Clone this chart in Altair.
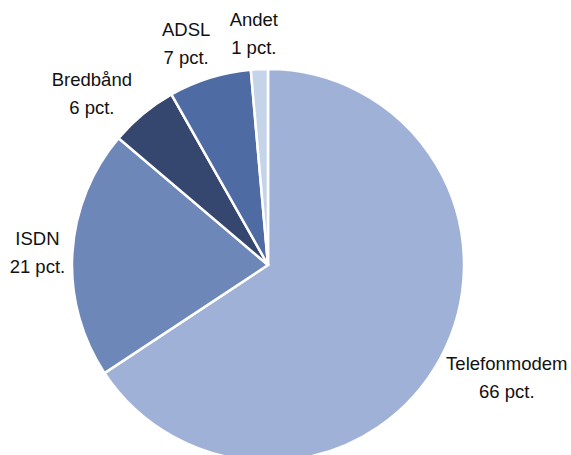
import altair as alt
import pandas as pd

categories = ["Telefonmodem", "ISDN", "Bredbånd", "ADSL", "Andet"]
shares = [65.7, 20.5, 5.6, 6.8, 1.4]
label_pct = [66, 21, 6, 7, 1]
colors = ["#9FB1D6", "#6D87B8", "#35476E", "#4F6BA3", "#C6D4EA"]

# label placement style (radius from centre, pixel nudges)
label_radius = [262, 231, 245, 232, 232]
label_dx = [8, 0, -20, -13, -4]
label_dy = [-25, -12, 4, -13, -13]

df = pd.DataFrame({
    "cat": categories,
    "share": shares,
    "order": list(range(len(categories))),
    "label": [f"{c}\n{p} pct." for c, p in zip(categories, label_pct)],
})

base = alt.Chart(df).encode(
    theta=alt.Theta("share:Q", stack=True),
    order=alt.Order("order:Q"),
)

pie = base.mark_arc(outerRadius=196, stroke="white", strokeWidth=2.5).encode(
    color=alt.Color("cat:N", scale=alt.Scale(domain=categories, range=colors), legend=None)
)

layers = [pie]
for c, r, dx, dy in zip(categories, label_radius, label_dx, label_dy):
    layers.append(
        base.mark_text(
            radius=r, dx=dx, dy=dy, lineBreak="\n", lineHeight=28,
            font="Liberation Sans", fontSize=18.5, color="#111111",
            align="center", baseline="middle",
        ).encode(
            text=alt.condition(alt.datum.cat == c, "label:N", alt.value(""))
        )
    )

chart = alt.layer(*layers).properties(
    width=536, height=380,
    autosize=alt.AutoSizeParams(type="none"),
    padding={"left": 0, "top": 75, "right": 35, "bottom": 0},
).configure_view(stroke=None)

chart.save("out.html", embed_options={"renderer": "svg", "actions": False})
